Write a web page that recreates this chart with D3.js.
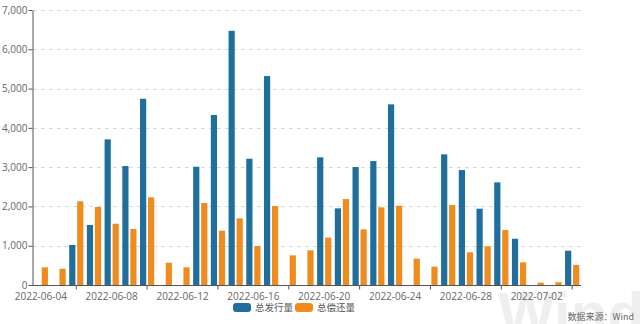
<!DOCTYPE html>
<html><head><meta charset="utf-8">
<script src="https://cdn.jsdelivr.net/npm/d3@7"></script>
<style>body{margin:0;background:#fff;}svg{display:block;}</style>
</head><body>
<svg id="c" width="640" height="324"></svg>
<script>
const dates = ["2022-06-04","2022-06-05","2022-06-06","2022-06-07","2022-06-08","2022-06-09","2022-06-10","2022-06-11","2022-06-12","2022-06-13","2022-06-14","2022-06-15","2022-06-16","2022-06-17","2022-06-18","2022-06-19","2022-06-20","2022-06-21","2022-06-22","2022-06-23","2022-06-24","2022-06-25","2022-06-26","2022-06-27","2022-06-28","2022-06-29","2022-06-30","2022-07-01","2022-07-02","2022-07-03","2022-07-04"];
const issuance = [0,0,1018,1527,3707,3028,4740,0,0,3010,4326,6470,3214,5318,0,0,3249,1951,3003,3155,4598,0,0,3325,2926,1942,2613,1178,0,0,873];
const repayment = [450,415,2130,1985,1560,1425,2232,567,450,2087,1382,1697,992,2010,755,883,1204,2188,1417,1977,2018,670,466,2036,832,985,1399,577,60,70,509];
const yTicks = [0,1000,2000,3000,4000,5000,6000,7000];
const seriesNames = ["总发行量","总偿还量"];
const colors = ["#1f6e9c","#f08c1e"];

const svg = d3.select("#c");
const m = {l:32, r:59, t:10, b:39};
const W = 640, H = 324;
const x = d3.scaleBand().domain(dates).range([m.l, W - m.r]).paddingInner(0).paddingOuter(0);
const y = d3.scaleLinear().domain([0,7000]).range([H - m.b, m.t]);
const bw = 6.2, gap = 1.8;

// watermark (behind everything)
svg.append("text").attr("x", 498).attr("y", 334).attr("fill","#efefef")
  .style("font-family","'Liberation Sans', sans-serif").style("font-weight","bold").style("font-size","60px")
  .text("Wind");

// grid
svg.append("g").selectAll("line").data(yTicks.slice(1)).join("line")
  .attr("x1", m.l+1).attr("x2", W - m.r).attr("y1", d=>Math.round(y(d))+0.5).attr("y2", d=>Math.round(y(d))+0.5)
  .attr("stroke","#d9d9d9").attr("stroke-dasharray","4,4").attr("stroke-width",1);

// bars
const series = [issuance, repayment];
series.forEach((vals, si) => {
  svg.append("g").selectAll("rect").data(dates.map((d,i)=>({d, v:vals[i]})).filter(o=>o.v>0)).join("rect")
    .attr("x", o => x(o.d) + x.bandwidth()/2 + (si===0 ? -(bw + gap/2) : gap/2))
    .attr("width", bw)
    .attr("y", o => y(o.v))
    .attr("height", o => y(0) - y(o.v))
    .attr("fill", colors[si]);
});

// y axis
const yAxis = svg.append("g").attr("transform", `translate(${m.l+0.5},0)`)
  .call(d3.axisLeft(y).tickValues(yTicks).tickFormat(d3.format(",")).tickSize(4).tickSizeOuter(0));
yAxis.select(".domain").attr("stroke","#555");
yAxis.selectAll(".tick line").attr("stroke","#555");
yAxis.selectAll("text").attr("fill","#666").style("font-family","'Open Sans', sans-serif").style("font-size","10px").attr("x",-5);

// x axis
const xg = svg.append("g").attr("transform", `translate(0,${y(0)+0.5})`);
xg.append("line").attr("x1", m.l).attr("x2", W - m.r).attr("stroke","#555");
const tickIdx = dates.map((d,i)=>i).filter(i => i % 4 === 2);
xg.selectAll("line.tk").data(tickIdx).join("line").attr("class","tk")
  .attr("x1", i => x(dates[i]) + x.bandwidth()/2).attr("x2", i => x(dates[i]) + x.bandwidth()/2)
  .attr("y1",0).attr("y2",4).attr("stroke","#555");
const labIdx = dates.map((d,i)=>i).filter(i => i % 4 === 0 && i < 30);
xg.selectAll("text").data(labIdx).join("text")
  .attr("x", i => x(dates[i]) + x.bandwidth()/2).attr("y", 14)
  .attr("text-anchor","middle").attr("fill","#666")
  .style("font-family","'Open Sans', sans-serif").style("font-size","10px")
  .text(i => dates[i]);

// legend
const lg = svg.append("g");
const legX = [233, 295];
seriesNames.forEach((n,i) => {
  lg.append("rect").attr("x", legX[i]).attr("y", 303).attr("width", 18).attr("height", 9).attr("rx", 3).attr("fill", colors[i]);
  lg.append("text").attr("x", legX[i] + 22).attr("y", 311).attr("fill","#555")
    .style("font-family","'Noto Sans CJK SC', sans-serif").style("font-size","9.5px").text(n);
});

// source
svg.append("text").attr("x", 634).attr("y", 320).attr("text-anchor","end").attr("fill","#666")
  .style("font-family","'Noto Sans CJK SC', sans-serif").style("font-size","9px").text("数据来源：Wind");
</script>
</body></html>
